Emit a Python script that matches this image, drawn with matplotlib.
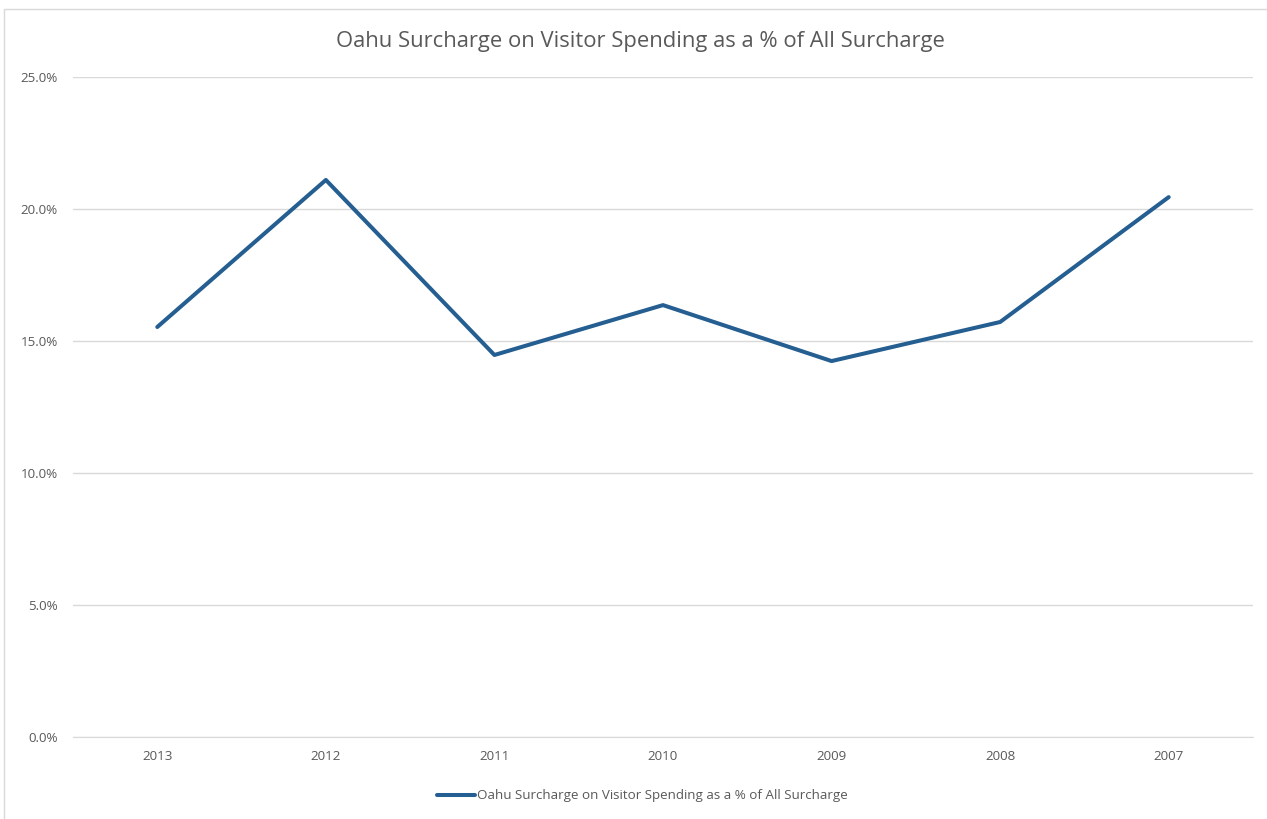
import matplotlib
matplotlib.use("Agg")
import matplotlib.pyplot as plt
from matplotlib.ticker import PercentFormatter
from matplotlib.patches import Rectangle

years = ["2013", "2012", "2011", "2010", "2009", "2008", "2007"]
values = [15.53, 21.10, 14.47, 16.36, 14.24, 15.72, 20.45]
series_name = "Oahu Surcharge on Visitor Spending as a % of All Surcharge"
title = "Oahu Surcharge on Visitor Spending as a % of All Surcharge"

plt.rcParams['font.family'] = ['Open Sans', 'DejaVu Sans']
txt = "#595959"
W, H = 1267, 819
fig = plt.figure(figsize=(W/100, H/100), dpi=100)
ax = fig.add_axes([73/W, 1-737/H, (1253-73)/W, (737-77)/H])

x = list(range(len(years)))
line, = ax.plot(x, values, color="#255E91", lw=2.9, solid_capstyle="round", solid_joinstyle="round", label=series_name)
ax.set_xlim(-0.5, len(years)-0.5)
ax.set_ylim(0, 25)
ax.set_yticks([0, 5, 10, 15, 20, 25])
ax.yaxis.set_major_formatter(PercentFormatter(decimals=1))
ax.set_xticks(x)
ax.set_xticklabels(years)
ax.grid(axis='y', color="#d9d9d9", lw=1)
ax.set_axisbelow(True)
for s in ['top', 'right', 'left']:
    ax.spines[s].set_visible(False)
ax.spines['bottom'].set_color("#d9d9d9")
ax.tick_params(axis='both', length=0, colors=txt, labelsize=9.6)
ax.tick_params(axis='y', pad=11)
ax.tick_params(axis='x', pad=9)

fig.text(640/W, 1-41/H, title, ha='center', va='center', fontsize=15.8, color=txt)
leg = fig.legend(handles=[line], loc='center', bbox_to_anchor=(642/W, 1-796/H), frameon=False,
                 fontsize=9.6, handlelength=2.9, handletextpad=0.1, labelcolor=txt)

fig.patches.append(Rectangle((4/W, -0.1), 1.2, 1+0.1-9/H, transform=fig.transFigure,
                             fill=False, edgecolor="#d9d9d9", lw=1))
fig.savefig("out.png", dpi=100)
